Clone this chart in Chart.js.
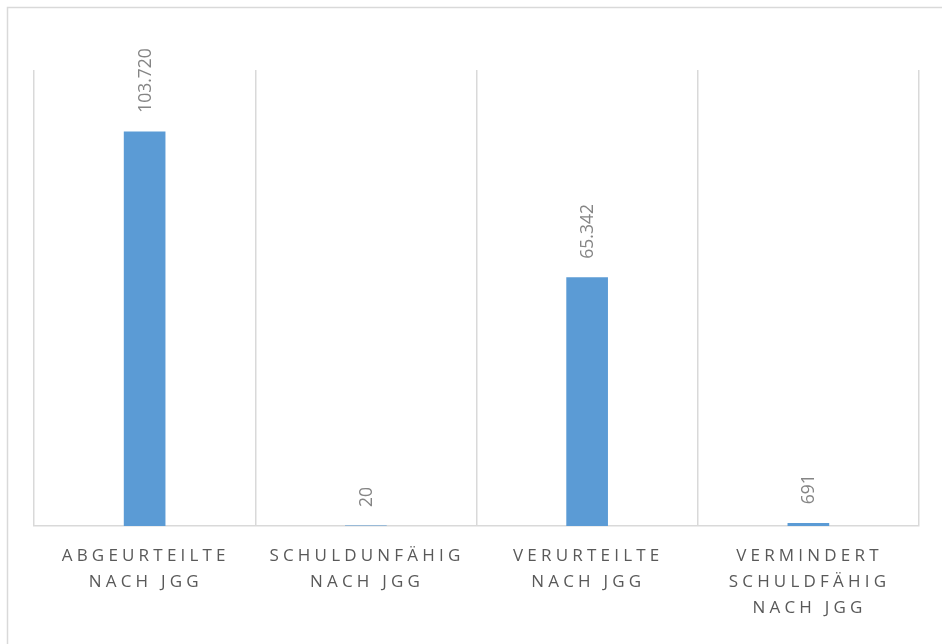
<!DOCTYPE html>
<html>
<head>
<meta charset="utf-8">
<script src="https://cdn.jsdelivr.net/npm/chart.js@4"></script>
<style>
  html, body { margin: 0; padding: 0; background: #fff; }
  #wrap { position: relative; width: 942px; height: 644px; }
</style>
</head>
<body>
<div id="wrap"><canvas id="jggChart" width="942" height="644"></canvas></div>
<script>
// Kategorien (mehrzeilig) und Werte
const categories = [
  ['ABGEURTEILTE', 'NACH JGG'],
  ['SCHULDUNFÄHIG', 'NACH JGG'],
  ['VERURTEILTE', 'NACH JGG'],
  ['VERMINDERT', 'SCHULDFÄHIG', 'NACH JGG']
];
const values = [103720, 20, 65342, 691];
const yMax = 120000;

const barColor = '#5B9BD5';
const gridColor = '#d9d9d9';

// Rahmen um das ganze Diagramm
const frame = {
  id: 'frame',
  beforeDraw(chart) {
    const ctx = chart.ctx;
    ctx.save();
    ctx.strokeStyle = gridColor;
    ctx.lineWidth = 1.5;
    ctx.strokeRect(7.5, 7.5, 960, 660);
    ctx.restore();
  }
};

// Werte senkrecht über den Balken
const valueLabels = {
  id: 'valueLabels',
  afterDatasetsDraw(chart) {
    const ctx = chart.ctx;
    const meta = chart.getDatasetMeta(0);
    ctx.save();
    ctx.fillStyle = '#858585';
    ctx.font = '17.5px "Open Sans", sans-serif';
    ctx.textAlign = 'left';
    ctx.textBaseline = 'middle';
    meta.data.forEach((bar, i) => {
      ctx.save();
      ctx.translate(bar.x + 1, bar.y - 19);
      ctx.rotate(-Math.PI / 2);
      ctx.fillText(values[i].toLocaleString('de-DE'), 0, 0);
      ctx.restore();
    });
    ctx.restore();
  }
};

// Achsenbeschriftung mit Sperrung
const categoryLabels = {
  id: 'categoryLabels',
  afterDraw(chart) {
    const ctx = chart.ctx;
    const xScale = chart.scales.x;
    const spacing = 4.2;
    ctx.save();
    ctx.fillStyle = '#595959';
    ctx.font = '17px "Open Sans", sans-serif';
    ctx.letterSpacing = spacing + 'px';
    ctx.textAlign = 'center';
    ctx.textBaseline = 'middle';
    categories.forEach((lines, i) => {
      const x = xScale.getPixelForTick(i) + spacing / 2 - 1;
      lines.forEach((line, j) => {
        ctx.fillText(line, x, 556 + j * 26);
      });
    });
    ctx.restore();
  }
};

new Chart(document.getElementById('jggChart'), {
  type: 'bar',
  data: {
    labels: categories,
    datasets: [{
      data: values,
      backgroundColor: barColor,
      borderWidth: 0,
      barThickness: 41
    }]
  },
  options: {
    responsive: false,
    animation: false,
    layout: { padding: { left: 34, top: 70, right: 23, bottom: 118 } },
    plugins: {
      legend: { display: false },
      tooltip: { enabled: false }
    },
    scales: {
      x: {
        offset: true,
        ticks: { display: false },
        grid: {
          offset: true,
          color: gridColor,
          lineWidth: 1.5,
          drawTicks: false
        },
        border: { color: gridColor, width: 1.5 }
      },
      y: {
        display: false,
        min: 0,
        max: yMax
      }
    }
  },
  plugins: [frame, valueLabels, categoryLabels]
});
</script>
</body>
</html>
